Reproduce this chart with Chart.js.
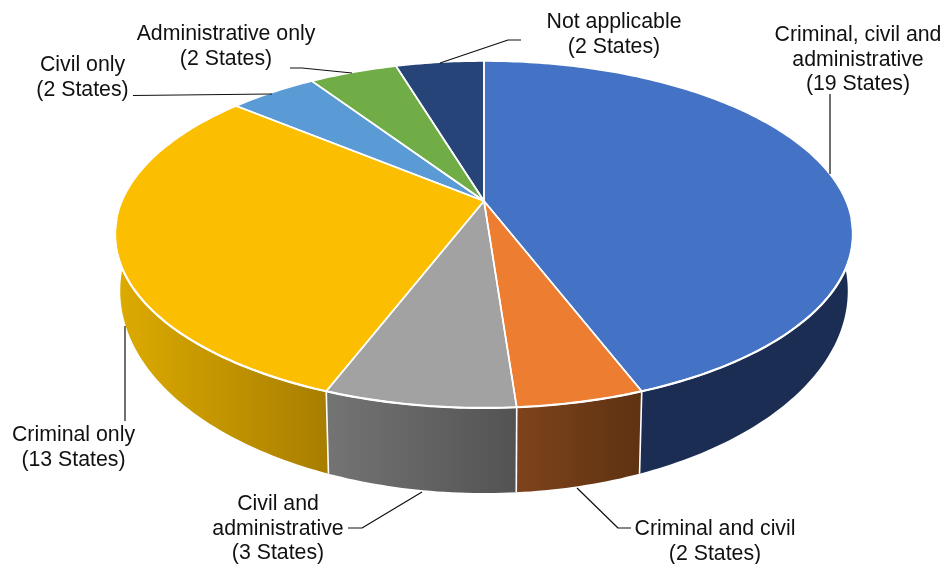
<!DOCTYPE html>
<html>
<head>
<meta charset="utf-8">
<style>
  html, body { margin: 0; background: #fff; }
  canvas { display: block; }
</style>
<script src="https://cdn.jsdelivr.net/npm/chart.js@4"></script>
</head>
<body>
<canvas id="chart" width="944" height="564"></canvas>
<script>
const categories = [
    "Criminal, civil and administrative",
    "Criminal and civil",
    "Civil and administrative",
    "Criminal only",
    "Civil only",
    "Administrative only",
    "Not applicable",
];
const states = [19, 2, 3, 13, 2, 2, 2];
const topColors = ["#4472C4", "#ED7D31", "#A2A2A2", "#FBBE00", "#5B9BD5", "#70AD47", "#264478"];
const wallLeft = ["#1B2D52", "#7E431B", "#747474", "#DDAB00", "#3A6A99", "#4C7730", "#1A2E52"];
const wallRight = ["#1B2D52", "#5E3212", "#535353", "#A87E00", "#3A6A99", "#4C7730", "#1A2E52"];

// where the text and leader lines sit, same order as categories
const labelLayout = [
    {x: 858, y: 41, lines: ["Criminal, civil and", "administrative"], leader: [[830, 94], [830, 174]]},
    {x: 715, y: 535, lines: ["Criminal and civil"], leader: [[631, 528], [618, 528], [577, 488]]},
    {x: 278, y: 510, lines: ["Civil and", "administrative"], leader: [[348, 528], [362, 528], [422, 492]]},
    {x: 73.5, y: 441, lines: ["Criminal only"], leader: [[125, 421], [125, 326]]},
    {x: 82.5, y: 71, lines: ["Civil only"], leader: [[133, 95.5], [272, 94]]},
    {x: 226, y: 40, lines: ["Administrative only"], leader: [[290, 68], [302, 68], [352, 73]]},
    {x: 614, y: 28, lines: ["Not applicable"], leader: [[521, 40], [508, 40], [440, 63]]},
];

// the pie is a circle seen in perspective, so the hub is not the ellipse centre
const view = {cx: 484, cy: 201, a: 362, b: 167, k: 0.193};
const wall = {sx: 0.986, sy: 1.165, topMid: 234.5, bottomMid: 291};

function rimPoint(angle) {
    const X = Math.cos(angle), Y = Math.sin(angle);
    const d = 1 - view.k * Y;
    return {x: view.cx + view.a * X / d, y: view.cy + view.b * Y / d};
}
function wallPoint(angle) {
    const p = rimPoint(angle);
    return {
        x: view.cx + (p.x - view.cx) * wall.sx,
        y: wall.bottomMid + (p.y - wall.topMid) * wall.sy,
    };
}
function sampleAngles(start, end) {
    const n = Math.max(2, Math.ceil((end - start) * 60));
    const out = [];
    for (let i = 0; i <= n; i++) out.push(start + (end - start) * i / n);
    return out;
}

const pie3d = {
    id: "pie3d",
    beforeDatasetsDraw(chart) {
        const ctx = chart.ctx;
        const arcs = chart.getDatasetMeta(0).data;

        // side wall, one path of small quads so the silhouette between rim and base is filled
        arcs.forEach((arc, i) => {
            const angles = sampleAngles(arc.startAngle, arc.endAngle);
            const front = angles.filter(a => Math.sin(a) > 0).map(a => rimPoint(a).x);
            const x0 = front.length ? Math.min(...front) : 0;
            const x1 = front.length ? Math.max(...front) : 1;
            const g = ctx.createLinearGradient(x0, 0, x1, 0);
            g.addColorStop(0, wallLeft[i]);
            g.addColorStop(1, wallRight[i]);
            ctx.beginPath();
            for (let j = 0; j < angles.length - 1; j++) {
                const p0 = rimPoint(angles[j]), p1 = rimPoint(angles[j + 1]);
                const q0 = wallPoint(angles[j]), q1 = wallPoint(angles[j + 1]);
                ctx.moveTo(p0.x, p0.y);
                ctx.lineTo(p1.x, p1.y);
                ctx.lineTo(q1.x, q1.y);
                ctx.lineTo(q0.x, q0.y);
                ctx.closePath();
            }
            ctx.fillStyle = g;
            ctx.fill();
        });

        // seams on the wall
        ctx.strokeStyle = "#fff";
        ctx.lineWidth = 1.6;
        arcs.forEach(arc => {
            if (Math.sin(arc.startAngle) <= 0) return;
            const p = rimPoint(arc.startAngle), q = wallPoint(arc.startAngle);
            ctx.beginPath();
            ctx.moveTo(p.x, p.y);
            ctx.lineTo(q.x, q.y);
            ctx.stroke();
        });

        // top face
        ctx.lineJoin = "round";
        arcs.forEach((arc, i) => {
            ctx.beginPath();
            ctx.moveTo(view.cx, view.cy);
            sampleAngles(arc.startAngle, arc.endAngle).forEach(a => {
                const p = rimPoint(a);
                ctx.lineTo(p.x, p.y);
            });
            ctx.closePath();
            ctx.fillStyle = topColors[i];
            ctx.fill();
        });
        arcs.forEach(arc => {
            ctx.beginPath();
            ctx.moveTo(view.cx, view.cy);
            sampleAngles(arc.startAngle, arc.endAngle).forEach(a => {
                const p = rimPoint(a);
                ctx.lineTo(p.x, p.y);
            });
            ctx.closePath();
            ctx.strokeStyle = "#fff";
            ctx.lineWidth = 1.6;
            ctx.stroke();
        });

        // the rim reads heavier where it meets the wall
        ctx.lineWidth = 2.2;
        arcs.forEach(arc => {
            const front = sampleAngles(arc.startAngle, arc.endAngle).filter(a => Math.sin(a) > 0.1);
            ctx.beginPath();
            front.forEach((a, j) => {
                const p = rimPoint(a);
                if (j) ctx.lineTo(p.x, p.y); else ctx.moveTo(p.x, p.y);
            });
            ctx.stroke();
        });

        // leader lines and labels
        ctx.strokeStyle = "#111";
        ctx.lineWidth = 1.2;
        ctx.fillStyle = "#111";
        ctx.font = '21.3px "Liberation Sans"';
        ctx.textAlign = "center";
        ctx.textBaseline = "alphabetic";
        labelLayout.forEach((lab, i) => {
            ctx.beginPath();
            lab.leader.forEach((pt, j) => {
                if (j) ctx.lineTo(pt[0], pt[1]); else ctx.moveTo(pt[0], pt[1]);
            });
            ctx.stroke();
            const text = lab.lines.concat(`(${states[i]} States)`);
            text.forEach((line, j) => ctx.fillText(line, lab.x, lab.y + j * 24.5));
        });
        return false;
    },
};

new Chart(document.getElementById("chart"), {
    type: "pie",
    data: {
        labels: categories,
        datasets: [{data: states, backgroundColor: topColors}],
    },
    options: {
        responsive: false,
        animation: false,
        plugins: {
            legend: {display: false},
            tooltip: {enabled: false},
        },
    },
    plugins: [pie3d],
});
</script>
</body>
</html>
